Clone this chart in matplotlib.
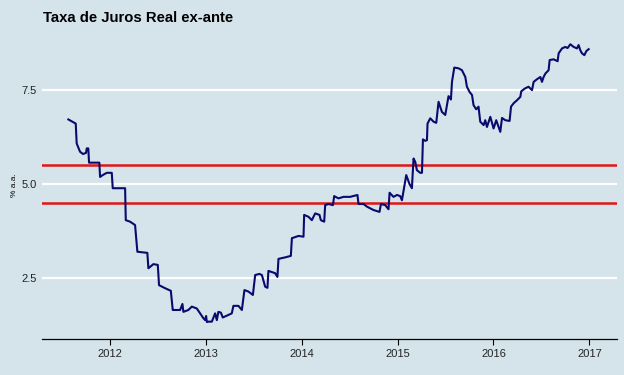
import numpy as np
import matplotlib
matplotlib.use("Agg")
import matplotlib.pyplot as plt

BG = "#d5e4eb"
NAVY = "#0a0a6e"
RED = "#e01515"
plt.rcParams["font.family"] = ["Liberation Sans", "DejaVu Sans"]

# decimal years and real ex-ante rate (% a.a.)
years = [2011.565, 2011.614, 2011.642, 2011.652, 2011.687, 2011.718, 2011.749,
         2011.757, 2011.773, 2011.781, 2011.888, 2011.896, 2011.924, 2011.966,
         2012.018, 2012.028, 2012.157, 2012.164, 2012.209, 2012.261, 2012.285,
         2012.389, 2012.400, 2012.452, 2012.498, 2012.511, 2012.574, 2012.634,
         2012.654, 2012.731, 2012.755, 2012.765, 2012.817, 2012.853, 2012.905,
         2012.939, 2012.974, 2012.992, 2013.002, 2013.010, 2013.026, 2013.062,
         2013.096, 2013.114, 2013.130, 2013.156, 2013.176, 2013.270, 2013.287,
         2013.339, 2013.375, 2013.402, 2013.444, 2013.490, 2013.514, 2013.558,
         2013.584, 2013.618, 2013.642, 2013.652, 2013.722, 2013.746, 2013.757,
         2013.827, 2013.886, 2013.897, 2013.966, 2014.018, 2014.025, 2014.070,
         2014.105, 2014.140, 2014.185, 2014.199, 2014.234, 2014.244, 2014.279,
         2014.325, 2014.338, 2014.383, 2014.435, 2014.505, 2014.581, 2014.592,
         2014.644, 2014.680, 2014.748, 2014.811, 2014.826, 2014.871, 2014.905,
         2014.916, 2014.957, 2014.993, 2015.027, 2015.045, 2015.090, 2015.124,
         2015.149, 2015.166, 2015.184, 2015.201, 2015.236, 2015.254, 2015.264,
         2015.288, 2015.306, 2015.312, 2015.340, 2015.375, 2015.403, 2015.427,
         2015.462, 2015.497, 2015.531, 2015.556, 2015.567, 2015.591, 2015.636,
         2015.671, 2015.706, 2015.723, 2015.751, 2015.776, 2015.792, 2015.820,
         2015.844, 2015.862, 2015.897, 2015.914, 2015.932, 2015.967, 2016.001,
         2016.029, 2016.053, 2016.071, 2016.089, 2016.123, 2016.168, 2016.183,
         2016.210, 2016.245, 2016.280, 2016.290, 2016.332, 2016.366, 2016.402,
         2016.419, 2016.454, 2016.489, 2016.506, 2016.523, 2016.541, 2016.575,
         2016.586, 2016.627, 2016.669, 2016.680, 2016.715, 2016.749, 2016.773,
         2016.802, 2016.836, 2016.871, 2016.888, 2016.906, 2016.923, 2016.948,
         2016.969, 2016.993]
rate = [6.72, 6.65, 6.61, 6.08, 5.86, 5.80, 5.83, 5.95, 5.95, 5.57, 5.57, 5.19,
        5.24, 5.30, 5.30, 4.89, 4.89, 4.04, 4.00, 3.91, 3.20, 3.17, 2.76, 2.87,
        2.85, 2.31, 2.23, 2.16, 1.65, 1.65, 1.81, 1.60, 1.65, 1.74, 1.69, 1.56,
        1.43, 1.38, 1.49, 1.33, 1.34, 1.34, 1.56, 1.38, 1.60, 1.58, 1.45, 1.56,
        1.76, 1.76, 1.65, 2.18, 2.14, 2.05, 2.58, 2.61, 2.58, 2.27, 2.24, 2.69,
        2.63, 2.53, 3.01, 3.05, 3.09, 3.56, 3.62, 3.60, 4.18, 4.13, 4.04, 4.22,
        4.18, 4.04, 4.00, 4.44, 4.47, 4.44, 4.68, 4.62, 4.66, 4.66, 4.71, 4.47,
        4.47, 4.40, 4.31, 4.26, 4.47, 4.44, 4.33, 4.77, 4.66, 4.71, 4.68, 4.57,
        5.24, 5.00, 4.89, 5.68, 5.59, 5.37, 5.30, 5.30, 6.19, 6.15, 6.17, 6.61,
        6.75, 6.66, 6.63, 7.19, 6.92, 6.84, 7.34, 7.25, 7.72, 8.10, 8.08, 8.03,
        7.85, 7.59, 7.45, 7.37, 7.10, 6.99, 7.06, 6.66, 6.57, 6.70, 6.52, 6.79,
        6.48, 6.70, 6.52, 6.39, 6.76, 6.70, 6.68, 7.06, 7.15, 7.23, 7.32, 7.47,
        7.55, 7.59, 7.50, 7.72, 7.79, 7.85, 7.72, 7.85, 7.94, 8.03, 8.30, 8.32,
        8.27, 8.48, 8.61, 8.65, 8.62, 8.72, 8.65, 8.61, 8.70, 8.56, 8.48, 8.43,
        8.54, 8.59]
bands = [4.5, 5.5]
y_ticks = [2.5, 5.0, 7.5]
x_ticks = [2012, 2013, 2014, 2015, 2016, 2017]

fig = plt.figure(figsize=(6.24, 3.75), dpi=100, facecolor=BG)
ax = fig.add_axes([0.0673, 0.096, 0.9217, 0.821], facecolor=BG)

for v in y_ticks:
    ax.axhline(v, color="white", lw=1.6, zorder=1)
for v in bands:
    ax.axhline(v, color=RED, lw=1.8, zorder=2)
ax.plot(years, rate, color=NAVY, lw=1.5, zorder=3, solid_joinstyle="round")

ax.set_xlim(2011.29, 2017.29)
ax.set_ylim(0.878, 9.07)
ax.set_xticks(x_ticks)
ax.set_xticklabels([str(x) for x in x_ticks])
ax.set_yticks(y_ticks)
ax.set_yticklabels([f"{v:.1f}" for v in y_ticks])
ax.tick_params(axis="x", direction="out", length=4, width=0.8, color="black",
               labelsize=8, labelcolor="#222222", pad=3)
ax.tick_params(axis="y", length=0, labelsize=8, labelcolor="#222222", pad=4)
for s in ("top", "right", "left"):
    ax.spines[s].set_visible(False)
ax.spines["bottom"].set_color("black")
ax.spines["bottom"].set_linewidth(0.9)

ax.set_ylabel("% a.a.", fontsize=6, labelpad=2)
fig.text(0.069, 0.952, "Taxa de Juros Real ex-ante", fontsize=10.7,
         fontweight="bold", ha="left", va="center")

fig.savefig("out.png", dpi=100, facecolor=BG)
